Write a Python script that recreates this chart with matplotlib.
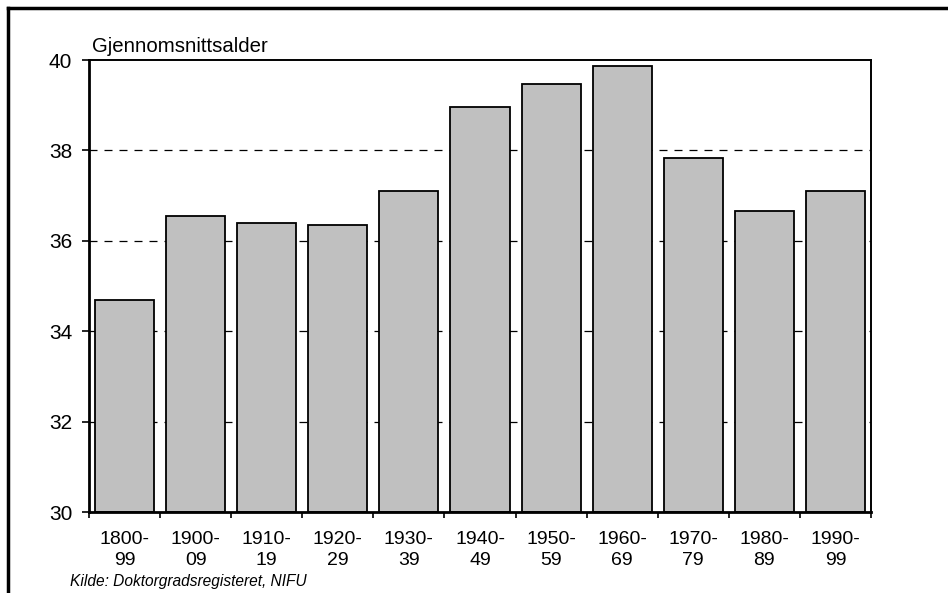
import matplotlib
matplotlib.use("Agg")
import matplotlib.pyplot as plt
from matplotlib.lines import Line2D
import numpy as np

plt.rcParams['font.family'] = ['Liberation Sans', 'DejaVu Sans']

categories = ["1800-\n99", "1900-\n09", "1910-\n19", "1920-\n29", "1930-\n39",
              "1940-\n49", "1950-\n59", "1960-\n69", "1970-\n79", "1980-\n89", "1990-\n99"]
values = [34.68, 36.55, 36.40, 36.35, 37.11, 38.97, 39.46, 39.87, 37.83, 36.67, 37.10]
yticks = [30, 32, 34, 36, 38, 40]
gridlines = [32, 34, 36, 38]

fig = plt.figure(figsize=(9.48, 5.93), dpi=100)
ax = fig.add_axes([89/948, 1-512/593, (871-89)/948, (512-60)/593])

x = np.arange(len(categories))
for g in gridlines:
    ax.axhline(g, color='black', linestyle=(0, (6.4, 5.6)), linewidth=0.9, zorder=1)
ax.bar(x, [v - 30 for v in values], bottom=30, width=0.83, color='#c0c0c0',
       edgecolor='black', linewidth=1.3, zorder=2)

ax.set_xlim(-0.5, len(categories) - 0.5)
ax.set_ylim(30, 40)
ax.set_yticks(yticks)
ax.set_yticklabels([str(t) for t in yticks], fontsize=15)
ax.set_xticks(list(x - 0.5) + [len(categories) - 0.5])
ax.set_xticklabels([""] * (len(categories) + 1))
ax.set_xticks(x, minor=True)
ax.set_xticklabels(categories, minor=True, fontsize=14, linespacing=1.3)
ax.tick_params(axis='x', which='major', direction='out', length=4.5, width=1.2)
ax.tick_params(axis='x', which='minor', length=0, pad=14)
ax.tick_params(axis='y', direction='out', length=5, width=1.2, pad=7)

for s in ['left', 'bottom']:
    ax.spines[s].set_linewidth(2.0)
for s in ['top', 'right']:
    ax.spines[s].set_linewidth(1.4)

fig.text(92/948, 1-52/593, "Gjennomsnittsalder", fontsize=14.7, ha='left', va='baseline')
fig.text(70/948, 1-586/593, "Kilde: Doktorgradsregisteret, NIFU", fontsize=11.2,
         style='italic', ha='left', va='baseline')

# outer frame (left and top)
fig.add_artist(Line2D([8/948, 8/948], [0, 1-8/593], transform=fig.transFigure,
                      color='black', linewidth=2.5))
fig.add_artist(Line2D([8/948, 1], [1-8/593, 1-8/593], transform=fig.transFigure,
                      color='black', linewidth=2.5))

fig.savefig("out.png", dpi=100)
